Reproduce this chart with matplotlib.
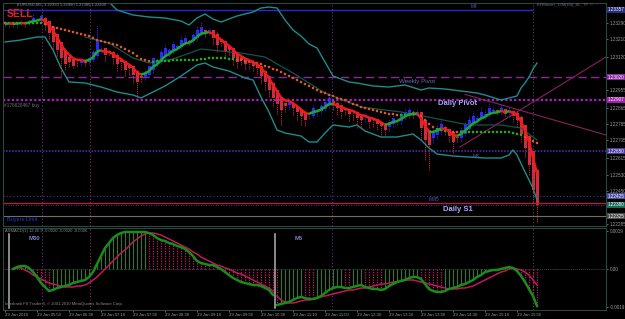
import numpy as np
import pandas as pd
import matplotlib
matplotlib.use("Agg")
import matplotlib.pyplot as plt
from matplotlib.collections import LineCollection

plt.rcParams["font.family"] = ["Liberation Sans", "DejaVu Sans"]

# prices are stored in points (0.00001) above BASE
BASE = 1.22

# EURUSD M5, 29 Jan 2010 - Heiken Ashi close (average price) per bar
ha_close_pts = [1285, 1295, 1280, 1290, 1295, 1285, 1300, 1315, 1305, 1325,
                1280, 1240, 1195, 1155, 1115, 1085, 1095, 1075, 1090, 1105,
                1090, 1115, 1145, 1205, 1165, 1130, 1145, 1115, 1085, 1095,
                1055, 1065, 1030, 995, 1015, 1045, 1075, 1115, 1105, 1145,
                1165, 1155, 1185, 1175, 1205, 1215, 1195, 1230, 1255, 1270,
                1245, 1255, 1215, 1180, 1195, 1145, 1155, 1115, 1095, 1105,
                1085, 1090, 1075, 1065, 1025, 995, 955, 915, 885, 855,
                875, 895, 865, 845, 825, 805, 825, 865, 855, 875,
                895, 915, 885, 865, 845, 855, 835, 845, 815, 805,
                825, 795, 805, 785, 775, 755, 795, 815, 805, 835,
                845, 855, 835, 845, 765, 705, 680, 745, 765, 785,
                755, 725, 695, 715, 755, 785, 805, 825, 815, 845,
                835, 865, 855, 845, 865, 835, 855, 825, 805, 735,
                665, 580, 455, 380]
first_open_pts = 1290
wick_up_pts = [10, 5, 10, 5, 10, 5, 10, 20, 5, 10,
               5, 10, 5, 10, 5, 10, 15, 5, 10, 5,
               10, 5, 10, 75, 10, 5, 10, 5, 10, 5,
               10, 5, 10, 5, 10, 15, 10, 5, 10, 15,
               20, 10, 15, 5, 20, 15, 10, 15, 20, 25,
               10, 10, 5, 10, 10, 5, 10, 5, 10, 5,
               10, 5, 10, 5, 10, 5, 10, 5, 10, 5,
               15, 10, 5, 10, 5, 15, 10, 15, 10, 15,
               20, 25, 10, 5, 10, 10, 5, 10, 5, 10,
               15, 5, 10, 5, 10, 5, 15, 20, 10, 15,
               20, 15, 10, 15, 10, 5, 10, 20, 15, 20,
               10, 5, 10, 15, 20, 15, 20, 25, 15, 25,
               20, 30, 15, 10, 20, 10, 15, 10, 10, 10,
               5, 10, 5, 10]
wick_dn_pts = [10, 15, 10, 20, 10, 15, 10, 10, 15, 10,
               25, 30, 35, 30, 90, 30, 25, 10, 15, 10,
               15, 10, 10, 10, 25, 30, 15, 30, 35, 40,
               30, 35, 40, 80, 20, 15, 10, 15, 10, 10,
               10, 15, 10, 10, 10, 10, 15, 10, 10, 10,
               25, 20, 30, 35, 20, 30, 25, 35, 30, 25,
               25, 30, 25, 30, 35, 40, 35, 40, 50, 75,
               30, 25, 35, 40, 45, 30, 15, 10, 20, 15,
               10, 15, 30, 35, 30, 25, 35, 40, 50, 45,
               25, 30, 35, 30, 45, 25, 20, 15, 20, 15,
               10, 15, 20, 15, 60, 100, 125, 25, 20, 15,
               25, 30, 55, 20, 15, 10, 15, 10, 15, 10,
               15, 10, 15, 10, 15, 10, 25, 30, 35, 40,
               45, 50, 60, 85]

# slow dotted average, read per bar
slow_pts = [1290, 1290, 1290, 1290, 1290, 1290, 1290, 1290, 1290, 1290,
            1285, 1275, 1270, 1265, 1260, 1255, 1250, 1245, 1240, 1235,
            1230, 1225, 1215, 1205, 1200, 1195, 1190, 1185, 1180, 1170,
            1160, 1150, 1140, 1125, 1110, 1105, 1100, 1095, 1100, 1100,
            1100, 1100, 1105, 1105, 1105, 1105, 1105, 1105, 1105, 1110,
            1110, 1115, 1115, 1115, 1115, 1115, 1110, 1110, 1105, 1105,
            1100, 1100, 1095, 1090, 1085, 1075, 1070, 1060, 1055, 1045,
            1035, 1025, 1015, 1005, 995, 985, 975, 965, 955, 945,
            940, 930, 925, 915, 910, 905, 895, 885, 880, 870,
            865, 860, 855, 850, 845, 840, 835, 835, 830, 830,
            830, 830, 835, 835, 825, 805, 785, 770, 760, 755,
            750, 745, 745, 745, 745, 745, 745, 745, 745, 745,
            745, 745, 745, 745, 745, 745, 745, 740, 735, 730,
            720, 710, 700, 690]

# Bollinger bands (bar index, points)
bb_up_bars = [0, 4, 8, 12, 16, 20, 24, 26, 28, 32, 36, 40, 44, 46, 48, 50, 52, 54, 56, 58,
              60, 62, 64, 66, 68, 70, 72, 74, 76, 78, 80, 82, 84, 86, 88, 92, 96, 100, 104,
              106, 110, 114, 118, 120, 124, 126, 128, 129, 130, 131, 132, 133]
bb_up_pts = [1505, 1505, 1495, 1480, 1465, 1455, 1420, 1395, 1355, 1330, 1320, 1315, 1300,
             1280, 1315, 1335, 1310, 1295, 1310, 1325, 1335, 1345, 1365, 1370, 1365, 1305,
             1255, 1225, 1185, 1165, 1095, 1025, 1010, 995, 990, 975, 970, 980, 955, 965,
             960, 950, 940, 930, 905, 915, 925, 965, 990, 1020, 1060, 1090]
bb_lo_bars = [0, 4, 8, 10, 12, 14, 16, 20, 24, 28, 32, 34, 36, 40, 44, 48, 50, 52, 56, 60,
              62, 64, 66, 68, 70, 74, 76, 78, 80, 82, 86, 88, 90, 94, 98, 102, 104, 106, 108,
              112, 116, 120, 124, 126, 127, 128, 130, 132, 133]
bb_lo_pts = [1195, 1205, 1220, 1220, 1155, 1065, 995, 990, 970, 945, 930, 915, 935, 975,
             1025, 1080, 1090, 1070, 1050, 1015, 1005, 920, 845, 755, 740, 725, 695, 695,
             740, 780, 770, 780, 750, 720, 720, 735, 705, 665, 635, 625, 620, 615, 615, 630,
             655, 630, 545, 465, 405]
# darker middle average
mid_bars = [20, 26, 32, 36, 42, 49, 59, 65, 72, 80, 89, 99, 107, 116, 124, 129, 133]
mid_pts = [1220, 1190, 1115, 1090, 1110, 1160, 1140, 1120, 1040, 940, 870, 845, 815, 780,
           780, 765, 705]

# levels (points)
levels = {"M4": 1357, "Weekly Pivot": 1020, "Daily Pivot": 907, "M3": 650,
          "MM5": 425, "Daily S1": 388, "Bid": 380, "Buyers Limit": 325}
top_line_pts = 1393
trend_down = ([115, 150.25], [933, 730])
trend_up = ([113.75, 150.25], [670, 1120])
vline_bars = [9.25, 21.25, 81.75, 132]
tf_sep_bars = [1, 67.5]

# ASMACD (points), M30 section bars 2..67, M5 section bars 68..133
macd_pts = [0, 10, 15, 15, 5, -15, -40, -70, -90, -110, -105, -95, -90, -85, -80, -70, -65,
            -60, -55, -40, -15, 25, 65, 105, 130, 155, 170, 180, 185, 185, 185, 185, 185, 185,
            180, 170, 155, 145, 140, 130, 125, 115, 110, 100, 85, 65, 40, 30, 25, 20, 20, 10,
            0, -15, -30, -45, -55, -65, -70, -75, -80, -80, -85, -95, -105, -130,
            -180, -175, -170, -165, -155, -145, -140, -145, -150, -150, -145, -135, -120,
            -105, -95, -90, -90, -95, -95, -90, -85, -80, -90, -95, -100, -100, -105, -100,
            -85, -75, -65, -60, -55, -45, -40, -40, -50, -75, -100, -110, -115, -115, -110,
            -100, -95, -90, -80, -75, -65, -55, -40, -30, -15, -10, -5, -5, 0, 5, 10, 5, -10,
            -35, -65, -100, -135, -185]
signal_pts = [0, 5, 5, -5, -15, -30, -40, -50, -60, -70, -75, -80, -85, -90, -90, -90, -85,
              -85, -80, -70, -55, -40, -20, 0, 20, 40, 60, 80, 95, 115, 135, 150, 165, 175,
              180, 180, 175, 170, 160, 150, 140, 130, 120, 110, 100, 85, 75, 60, 50, 40, 30,
              20, 15, 5, 0, -10, -20, -25, -35, -45, -55, -65, -75, -85, -95, -110,
              -135, -155, -165, -170, -170, -165, -160, -155, -155, -150, -145, -140, -135,
              -130, -125, -120, -115, -110, -105, -105, -100, -95, -95, -90, -85, -80, -75,
              -75, -70, -65, -65, -60, -55, -55, -55, -60, -65, -70, -75, -80, -85, -90, -95,
              -100, -100, -100, -95, -95, -90, -85, -75, -65, -55, -45, -35, -25, -15, -10,
              0, 5, 0, -5, -15, -30, -55, -80]
macd_first_bar = 2
section_split = 68

time_labels = ["29 Jan 2010", "29 Jan 05:50", "29 Jan 06:30", "29 Jan 07:10", "29 Jan 07:50",
               "29 Jan 08:30", "29 Jan 09:10", "29 Jan 09:50", "29 Jan 10:30", "29 Jan 11:10",
               "29 Jan 11:50", "29 Jan 12:30", "29 Jan 13:10", "29 Jan 13:50", "29 Jan 14:30",
               "29 Jan 15:10", "29 Jan 15:50"]
price_ticks = [1.23290, 1.23210, 1.23120, 1.22955, 1.22865, 1.22785, 1.22705, 1.22615,
               1.22530, 1.22450, 1.22285]


def p(v):
    return BASE + np.asarray(v, dtype=float) / 1e5


ha_close = p(ha_close_pts)
ha_open = np.empty_like(ha_close)
ha_open[0] = p(first_open_pts)
for i in range(1, len(ha_close)):
    ha_open[i] = (ha_open[i - 1] + ha_close[i - 1]) / 2
high = np.maximum(ha_open, ha_close) + np.array(wick_up_pts) / 1e5
low = np.minimum(ha_open, ha_close) - np.array(wick_dn_pts) / 1e5
bars = np.arange(len(ha_close))

W, H = 625, 319
fig = plt.figure(figsize=(W / 100, H / 100), dpi=100, facecolor="black")
ax = fig.add_axes([3 / W, 1 - 226 / H, 603 / W, 223 / H], facecolor="black")
axm = fig.add_axes([3 / W, 1 - 310 / H, 603 / W, 82 / H], facecolor="black")

edge = "#284840"
txt = "#9a9a9a"
for a in (ax, axm):
    a.set_xlim(-0.5, 150.25)
    for s in a.spines.values():
        s.set_color(edge)
        s.set_linewidth(0.8)
    a.tick_params(colors=txt, labelsize=3.3, length=1.5, width=0.5, pad=1)
    a.yaxis.tick_right()

ax.set_ylim(p(275), p(1390))
axm.set_ylim(-0.00205, 0.00205)

# vertical markers
for b, c in zip(vline_bars, ["#7a2a8a", "#9a2a6a", "#6a2a8a", "#3a5a4a"]):
    for a in (ax, axm):
        a.axvline(b, color=c, lw=0.8, ls=(0, (1, 2)))

# levels
ax.axhline(p(top_line_pts), color="#5a2aa0", lw=1.0, ls=(0, (1, 1)))
ax.hlines(p(levels["M4"]), -0.5, 132, color="#2a2ad0", lw=1.0)
ax.axhline(p(levels["Weekly Pivot"]), color="#8a2a9a", lw=1.0, ls=(0, (6, 3)))
ax.axhline(p(levels["Daily Pivot"]), color="#b020c0", lw=1.6, ls=(0, (1, 1)))
ax.axhline(p(levels["M3"]), color="#5a30c8", lw=1.1, ls=(0, (1, 1)))
ax.axhline(p(levels["MM5"]), color="#3a3ab0", lw=0.8, ls=(0, (1, 2)))
ax.axhline(p(levels["Daily S1"]), color="#b01a48", lw=1.0)
ax.axhline(p(levels["Bid"]), color="#4a5a5a", lw=0.6, ls=(0, (1, 2)))
ax.axhline(p(levels["Buyers Limit"]), color="#707060", lw=0.8)

ax.plot(trend_down[0], p(trend_down[1]), color="#8a2060", lw=0.8)
ax.plot(trend_up[0], p(trend_up[1]), color="#8a2060", lw=0.8)

# bollinger bands and middle line
ax.plot(mid_bars, p(mid_pts), color="#12564c", lw=0.9)
ax.plot(bb_up_bars, p(bb_up_pts), color="#1e8c8c", lw=1.0)
ax.plot(bb_lo_bars, p(bb_lo_pts), color="#1e8c8c", lw=1.0)

# heiken ashi candles
up = ha_close >= ha_open
cc = np.where(up, "#2a2aff", "#d42a3a")
ax.vlines(bars, low, high, color=cc, lw=0.6, ls=(0, (1.5, 1)))
ax.bar(bars, np.abs(ha_close - ha_open) + 0.00001, bottom=np.minimum(ha_open, ha_close),
       width=0.75, color=cc, linewidth=0)

# slow dotted average
slow = p(slow_pts)
ax.scatter(bars, slow, s=3.5, c=np.where(ha_close > slow, "#22aa22", "#e0562a"),
           linewidths=0, zorder=4)

# fast coloured average
fast = pd.Series(ha_close).ewm(span=5, adjust=False).mean().values
segs = np.stack([np.c_[bars[:-1], fast[:-1]], np.c_[bars[1:], fast[1:]]], axis=1)
cols = np.where(np.diff(fast) < 0, "#ee1c1c", "#1caa2a")
ax.add_collection(LineCollection(segs, colors=cols, linewidths=1.8, zorder=5))


# right-side price boxes
def price_box(a, val, label, fc):
    a.text(1.003, val, label, transform=a.get_yaxis_transform(), fontsize=3.3, color="white",
           va="center", ha="left", bbox=dict(boxstyle="square,pad=0.12", fc=fc, ec="none"))


price_box(ax, p(levels["M4"]), "1.23357", "#2a2a80")
price_box(ax, p(levels["Weekly Pivot"]), "1.23020", "#8a2a9a")
price_box(ax, p(levels["Daily Pivot"]), "1.22907", "#a020a8")
price_box(ax, p(levels["M3"]), "1.22650", "#4a3a9a")
price_box(ax, p(levels["MM5"]), "1.22425", "#4a4aa0")
price_box(ax, p(levels["Bid"]), "1.22380", "#1a6a5a")
price_box(ax, p(levels["Buyers Limit"]), "1.22325", "#4a4a4a")

ax.set_yticks(price_ticks)
ax.set_yticklabels(["%.5f" % v for v in price_ticks])
ax.set_xticks([])

# text annotations
ax.text(0.5, p(1335), "SELL", color="#e0202a", fontsize=7.5, fontweight="bold", va="center")
ax.text(3, p(1382), "EURUSD,M5  1.22930 1.22960 1.22380 1.22400", color="#8a8a9a",
        fontsize=3.0, va="center")
ax.text(133, p(1380), "EFMaster_15M(H4)_SL_TP  ©", color="#6a6a7a", fontsize=3.0, va="center")
ax.text(116.5, p(1372), "M4", color="#5a5aaa", fontsize=3.4, va="center")
ax.text(98.5, p(1000), "Weekly Pivot", color="#6a6ab0", fontsize=4.5, va="center")
ax.text(108.3, p(888), "Daily Pivot", color="#a8a8ff", fontsize=5.5, fontweight="bold", va="center")
ax.text(117, p(625), "M3", color="#5a5aaa", fontsize=3.4, va="center")
ax.text(106, p(410), "MM5", color="#5a5aaa", fontsize=3.4, va="center")
ax.text(109.5, p(356), "Daily S1", color="#a8a8ff", fontsize=5.5, fontweight="bold", va="center")
ax.text(0.5, p(308), "Buyers Limit", color="#2a3ad0", fontsize=4, va="center")
ax.text(-0.2, p(875), "#176620467 buy", color="#707070", fontsize=3.4, va="center")

# ASMACD panel: histogram green while rising, crimson while falling
macd = np.array(macd_pts) / 1e5
signal = np.array(signal_pts) / 1e5
mb = np.arange(macd_first_bar, macd_first_bar + len(macd))
axm.axhline(0, color="#2a5040", lw=0.7, ls=(0, (1, 1)))
step = pd.Series(np.sign(np.r_[1, np.diff(macd_pts)])).replace(0, np.nan).ffill().values
rising = step > 0
axm.vlines(mb[rising], 0, macd[rising], color="#1f8a1f", lw=0.7)
axm.vlines(mb[~rising], 0, macd[~rising], color="#c01860", lw=0.9, ls=(0, (1, 1)))
for sel in (mb < section_split, mb >= section_split):
    axm.plot(mb[sel], signal[sel], color="#c0185a", lw=1.1)
    axm.plot(mb[sel], macd[sel], color="#1a8c1a", lw=1.8)
for b in tf_sep_bars:
    axm.axvline(b, ymin=0.03, ymax=0.93, color="#b0b0b0", lw=1.1)
axm.text(6, 0.00155, "M30", color="#8080d0", fontsize=4.2, fontweight="bold", va="center")
axm.text(72.5, 0.00155, "M5", color="#8080d0", fontsize=4.2, fontweight="bold", va="center")
axm.text(0, 0.0019, "ASMACD(1) 12 26 9 -0.0020 -0.0020 -0.0006", color="#8a8a8a",
         fontsize=3.0, va="center")
axm.text(0, -0.00175, "Interbank FX Trader 4, © 2001-2010 MetaQuotes Software Corp.",
         color="#8a8a8a", fontsize=3.0, va="center")
axm.set_yticks([0.0019, 0.0, -0.0019])
axm.set_yticklabels(["0.0019", "0.00", "-0.0019"])
axm.set_xticks(np.arange(len(time_labels)) * 8)
axm.set_xticklabels(time_labels, ha="left", fontsize=3.1)

fig.savefig("out.png", dpi=100, facecolor="black")
